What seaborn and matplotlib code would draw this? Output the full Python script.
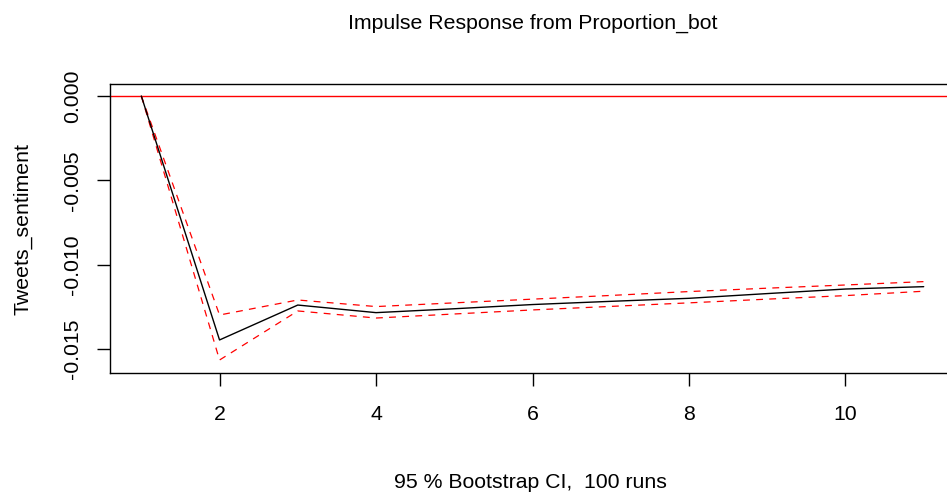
import matplotlib
matplotlib.use("Agg")
import matplotlib.pyplot as plt
import seaborn as sns
import pandas as pd
from matplotlib.ticker import FuncFormatter

horizon = [1, 2, 3, 4, 5, 6, 7, 8, 9, 10, 11]
irf = [0.0, -0.01447, -0.01240, -0.01285, -0.01262, -0.01237, -0.01218, -0.01200, -0.01172, -0.01145, -0.01131]
upper = [0.0, -0.01299, -0.01210, -0.01249, -0.01227, -0.01205, -0.01183, -0.01160, -0.01140, -0.01121, -0.01101]
lower = [0.0, -0.01566, -0.01275, -0.01317, -0.01293, -0.01269, -0.01248, -0.01227, -0.01205, -0.01184, -0.01158]
xticks = [2, 4, 6, 8, 10]
yticks = [0.0, -0.005, -0.010, -0.015]

sns.set_style("ticks")
plt.rcParams['font.family'] = ['Liberation Sans', 'DejaVu Sans']
plt.rcParams['text.color'] = 'black'
plt.rcParams['xtick.color'] = 'black'
plt.rcParams['ytick.color'] = 'black'
plt.rcParams['axes.labelcolor'] = 'black'

FS = 15.3

df = pd.DataFrame({"h": horizon, "irf": irf, "upper": upper, "lower": lower})

fig = plt.figure(figsize=(9.47, 5.0), dpi=100)
ax = fig.add_axes([110 / 947, 127 / 500, (955 - 110) / 947, (373 - 84) / 500])

ax.axhline(0, color="red", lw=1.0, zorder=1)
sns.lineplot(data=df, x="h", y="upper", ax=ax, color="red", lw=0.9, linestyle=(0, (5.5, 5)))
sns.lineplot(data=df, x="h", y="lower", ax=ax, color="red", lw=0.9, linestyle=(0, (5.5, 5)))
sns.lineplot(data=df, x="h", y="irf", ax=ax, color="black", lw=1.0)

ax.set_xlim(0.6, 11.4)
ax.set_ylim(-0.01643, 0.00071)
ax.set_xticks(xticks)
ax.set_yticks(yticks)
ax.yaxis.set_major_formatter(FuncFormatter(lambda v, p: f"{v:.3f}"))
ax.tick_params(axis="both", labelsize=FS, length=9.4, width=1, color="black", labelcolor="black")
ax.tick_params(axis="x", pad=14)
ax.tick_params(axis="y", pad=11)
for lab in ax.get_yticklabels():
    lab.set_rotation(90)
    lab.set_va("center")
for s in ax.spines.values():
    s.set_visible(True)
    s.set_color("black")
    s.set_linewidth(1)

ax.set_xlabel("")
ax.set_ylabel("")
fig.text(23 / 947, 1 - 229 / 500, "Tweets_sentiment", rotation=90, ha="center", va="center", fontsize=FS)
fig.text(533 / 947, 1 - 23 / 500, "Impulse Response from Proportion_bot", ha="center", va="center", fontsize=FS)
fig.text(530 / 947, 1 - 482 / 500, "95 % Bootstrap CI,  100 runs", ha="center", va="center", fontsize=FS)

fig.savefig("out.png", dpi=100)
